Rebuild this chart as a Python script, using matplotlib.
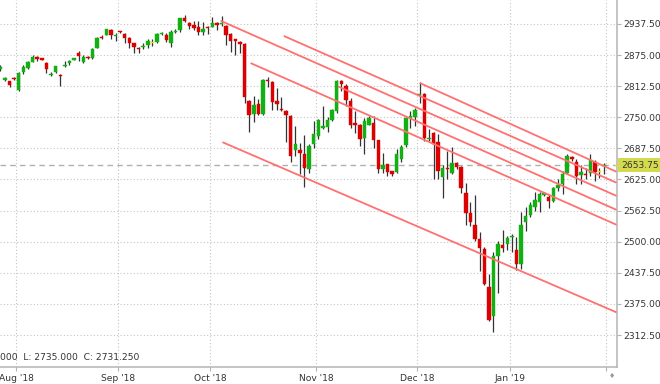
import matplotlib
matplotlib.use("Agg")
import matplotlib.pyplot as plt
import numpy as np

# OHLC candles, one per trading day
opens = [2847, 2825.5, 2822, 2829.5, 2804, 2841, 2849.5, 2862, 2871.5, 2869,
         2860, 2835, 2841.5, 2835, 2853, 2859, 2866, 2880, 2861.5, 2871.5,
         2869.5, 2890, 2912, 2916, 2925.5, 2913.5, 2923.5, 2918, 2910, 2899,
         2890, 2891, 2895.5, 2900.5, 2902, 2917, 2916, 2899, 2921, 2925.5,
         2949, 2939.5, 2935.5, 2932, 2921.5, 2932, 2932, 2939, 2937.5, 2933.5,
         2917.5, 2907.5, 2902, 2897.5, 2783, 2757.5, 2777.5, 2757, 2825.5, 2821.5,
         2783.5, 2767.5, 2762, 2753.5, 2684, 2685, 2675.5, 2647, 2695.5, 2712,
         2729, 2730, 2745.5, 2762, 2823.5, 2812, 2783.5, 2739, 2735.5, 2707.5,
         2735.5, 2739, 2703.5, 2645.5, 2655.5, 2642, 2640, 2667, 2694, 2749,
         2750, 2794.5, 2797, 2705.5, 2719, 2700, 2631, 2649, 2639, 2659,
         2651, 2597, 2557.5, 2533.5, 2505.5, 2485.5, 2409, 2350, 2472, 2493.5,
         2495.5, 2510, 2483.5, 2455, 2540, 2553.5, 2570, 2580, 2594, 2590,
         2582, 2607, 2615.5, 2637.5, 2670, 2660, 2633.5, 2637, 2637.5, 2660,
         2641, 2652]
highs = [2855, 2830, 2823.5, 2831, 2842, 2855.5, 2863.5, 2875.5, 2873.5, 2870,
         2861, 2842, 2854, 2836, 2862.5, 2865.5, 2870, 2883.5, 2875.5, 2873,
         2889, 2911.5, 2915.5, 2928, 2926.5, 2920, 2924, 2919, 2911.5, 2900,
         2891.5, 2899, 2907, 2908, 2920, 2921, 2920, 2925.5, 2928, 2949.5,
         2955.5, 2942, 2943.5, 2943.5, 2942, 2933.5, 2952, 2942, 2954, 2935,
         2919, 2908, 2903, 2899, 2785.5, 2792, 2787, 2827, 2831, 2823,
         2808, 2791, 2765.5, 2755.5, 2732, 2699, 2713.5, 2695.5, 2743.5, 2747,
         2772, 2751, 2767, 2825.5, 2825.5, 2817.5, 2789, 2762, 2737, 2749,
         2753.5, 2753.5, 2705, 2677.5, 2656, 2643, 2685.5, 2694, 2751, 2762,
         2769, 2820, 2799, 2725.5, 2720, 2715.5, 2653.5, 2682, 2691, 2660,
         2652, 2617.5, 2579, 2593.5, 2519.5, 2489.5, 2435.5, 2479, 2502, 2524,
         2512, 2515.5, 2510, 2560, 2569.5, 2579, 2599, 2599, 2599, 2595.5,
         2609, 2625.5, 2642, 2675.5, 2672, 2667, 2653.5, 2649, 2675.5, 2664,
         2649, 2657.5]
lows = [2844, 2823.5, 2810, 2825.5, 2803, 2837.5, 2848, 2861, 2864, 2865,
        2840, 2833.5, 2840, 2813.5, 2852, 2855, 2865, 2863.5, 2859, 2868,
        2868, 2889, 2907, 2915, 2907, 2904, 2919, 2899, 2889, 2879,
        2879, 2887.5, 2889, 2893.5, 2899, 2915.5, 2901, 2892, 2919, 2921.5,
        2941.5, 2927, 2925.5, 2915.5, 2915.5, 2917.5, 2931, 2925.5, 2933.5, 2895.5,
        2882, 2875.5, 2879, 2779, 2721, 2740, 2754, 2755.5, 2811, 2765.5,
        2765.5, 2763.5, 2700, 2660, 2672, 2635.5, 2609, 2639, 2689, 2707,
        2725.5, 2720, 2742, 2759, 2802, 2772, 2729, 2719, 2692, 2677,
        2734, 2689, 2637.5, 2639, 2632, 2632, 2637.5, 2660, 2691, 2729,
        2732, 2779, 2702, 2702, 2625.5, 2625.5, 2587, 2625.5, 2635.5, 2645.5,
        2597.5, 2533.5, 2531, 2502, 2442, 2412, 2340, 2319, 2397.5, 2479,
        2483.5, 2479, 2443, 2445.5, 2522, 2549, 2562, 2560, 2592, 2567.5,
        2579, 2602, 2595.5, 2635.5, 2662, 2615.5, 2615.5, 2625.5, 2632, 2622,
        2629, 2637]
closes = [2852, 2828.5, 2814, 2827, 2840, 2851, 2861.5, 2871.5, 2868, 2866,
          2848, 2836, 2853, 2832, 2855.5, 2863.5, 2869, 2874, 2871.5, 2869.5,
          2887.5, 2910, 2909, 2927, 2915.5, 2916, 2921, 2910, 2900, 2892,
          2887.5, 2893, 2903.5, 2900.5, 2918, 2919.5, 2905.5, 2921, 2924, 2949,
          2944, 2934, 2929.5, 2921.5, 2927.5, 2929, 2939, 2936, 2938.5, 2916,
          2903, 2904, 2898, 2791, 2754, 2775.5, 2757, 2825.5, 2822, 2780,
          2777, 2765, 2754, 2672, 2695.5, 2677.5, 2649, 2691.5, 2717, 2744,
          2731.5, 2745.5, 2765.5, 2823.5, 2817, 2785.5, 2734, 2734, 2705.5, 2742,
          2749, 2703.5, 2645.5, 2655, 2640, 2635.5, 2677, 2690, 2749, 2752,
          2764, 2796.5, 2707.5, 2707.5, 2695.5, 2642, 2649, 2647, 2657.5, 2651,
          2607.5, 2557.5, 2540, 2505.5, 2487.5, 2415.5, 2343.5, 2472, 2495.5, 2487.5,
          2507, 2512, 2455.5, 2533.5, 2552, 2573.5, 2583.5, 2595.5, 2597, 2582,
          2607, 2614, 2637, 2672, 2665.5, 2632, 2640, 2635, 2664, 2641,
          2641, 2653.75]

# month labels and index of first candle in each month
month_labels = ["Aug '18", "Sep '18", "Oct '18", "Nov '18", "Dec '18", "Jan '19", ""]
month_first = [4, 26, 46, 69, 91, 111, 132]

price_ticks = [2312.5, 2375, 2437.5, 2500, 2562.5, 2625, 2687.5, 2750, 2812.5, 2875, 2937.5]

# drawn trend lines: start (index, price) -> end (index, price)
trend_x0 = [47.8, 61.5, 54.3, 48.2, 91.0, 73.3]
trend_y0 = [2944, 2913.5, 2859, 2700, 2819, 2812]
trend_x1 = [133.7, 133.7, 133.7, 133.7, 133.7, 133.7]
trend_y1 = [2592, 2618.5, 2534, 2358, 2640.5, 2564]

info_text = "000  L: 2735.000  C: 2731.250"

o = np.array(opens)
h = np.array(highs)
l = np.array(lows)
c = np.array(closes)
x = np.arange(len(o))

fig = plt.figure(figsize=(6.6, 3.84), dpi=100)
ax = fig.add_axes([0.0, 0.0435, 616.5 / 660, 1 - 0.0435])

ax.set_xlim(-0.07, 133.7)
ax.set_ylim(2247.6, 2985.7)

# grid
grid_kw = dict(color="#c4c4c4", lw=0.8, linestyle=(0, (1, 2)), zorder=0)
for p in price_ticks:
    ax.axhline(p, **grid_kw)
for m in month_first:
    ax.axvline(m - 0.5, **grid_kw)

# last price dashed line
ax.axhline(c[-1], color="#b0b0b0", lw=1.0, linestyle=(0, (4, 3)), zorder=1)

# candles
colors = np.where(c > o, "#12b012", np.where(c < o, "#dd0000", "#e8e800"))
ax.vlines(x, l, h, color="#333333", lw=0.9, zorder=2)
body = np.maximum(np.abs(c - o), 1.6)
bottom = np.minimum(o, c)
bottom = np.where(c == o, o - 0.8, bottom)
ax.bar(x, body, bottom=bottom, width=0.75, color=colors, edgecolor=colors,
       lw=0.3, zorder=3)

# trend lines
for x0, y0, x1, y1 in zip(trend_x0, trend_y0, trend_x1, trend_y1):
    ax.plot([x0, x1], [y0, y1], color="#ff7070", lw=1.3, zorder=4,
            solid_capstyle="butt")

# axes styling
for side in ["top", "left"]:
    ax.spines[side].set_visible(False)
for side in ["right", "bottom"]:
    ax.spines[side].set_color("#b4b4b4")
    ax.spines[side].set_linewidth(1.1)

ax.yaxis.tick_right()
ax.set_yticks(price_ticks)
ax.set_yticklabels(["%.2f" % p for p in price_ticks])
ax.set_xticks([m - 0.5 for m in month_first])
ax.set_xticklabels(month_labels)
ax.tick_params(axis="y", length=3, width=0.8, color="#b4b4b4", pad=2,
               labelsize=6.6, labelcolor="#333333")
ax.tick_params(axis="x", length=3, width=0.8, color="#b4b4b4", pad=2,
               labelsize=6.6, labelcolor="#333333")

# last price tag: box plus small pointer at the axis
tag_color = "#d4da4e"
ax.annotate("%.2f" % c[-1], xy=(1.0, c[-1]), xycoords=("axes fraction", "data"),
            xytext=(3.4, 0), textcoords="offset points", ha="left", va="center",
            fontsize=6.6, color="#333333", annotation_clip=False,
            bbox=dict(boxstyle="square,pad=0.3", fc=tag_color, ec="none"))
ax.plot([1.0 + 1.2 / 616.5], [c[-1]], marker="<", ms=5.5, color=tag_color,
        mec="none", transform=ax.get_yaxis_transform(), clip_on=False, zorder=5)

fig.text(0.0, 1 - 358 / 384, info_text, fontsize=6.6, color="#333333",
         ha="left", va="center")
fig.text(612 / 660, 1 - 376 / 384, "\u2666", fontsize=5, color="#999999",
         ha="center", va="center")

fig.savefig("out.png", dpi=100, facecolor="white")
